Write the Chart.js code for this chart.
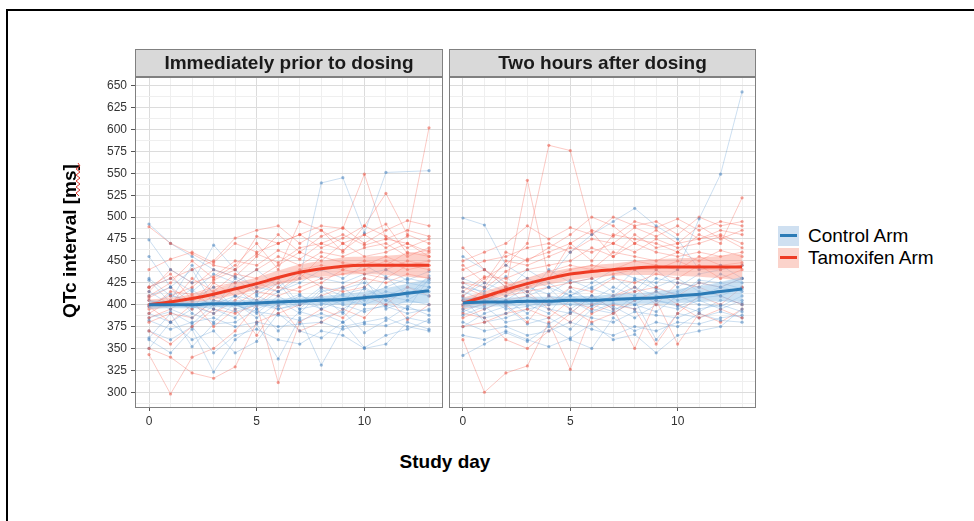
<!DOCTYPE html>
<html>
<head>
<meta charset="utf-8">
<script src="https://cdn.jsdelivr.net/npm/chart.js@4.4.1/dist/chart.umd.min.js"></script>
<style>
    body {
        margin: 0;
        width: 974px;
        height: 521px;
        position: relative;
        overflow: hidden;
        background: #fff;
        font-family: "Liberation Sans", Arial, sans-serif;
    }
    .frame {
        position: absolute;
        left: 6px; top: 9px;
        width: 980px; height: 520px;
        border-top: 2px solid #000;
        border-left: 2px solid #000;
    }
    canvas { position: absolute; }
    #c1 { left: 40px; top: 40px; }
    #c2 { left: 448px; top: 40px; }
    .ytitle {
        position: absolute;
        left: 70px; top: 241px;
        transform: translate(-50%, -50%) rotate(-90deg);
        font-weight: bold; font-size: 19px; color: #000;
        white-space: nowrap;
    }
    .xtitle {
        position: absolute;
        left: 445px; top: 462px;
        transform: translate(-50%, -50%);
        font-weight: bold; font-size: 19px; color: #000;
        white-space: nowrap;
    }
    .key {
        position: absolute;
        left: 778px; width: 21px; height: 20px;
    }
    .key i {
        position: absolute;
        left: 2px; right: 2px; top: 8px; height: 3px;
    }
    .ltext {
        position: absolute;
        left: 808px;
        font-size: 19px; color: #000;
        line-height: 20px;
        white-space: nowrap;
    }
</style>
</head>
<body>

<div class="frame"></div>
<canvas id="c1" width="404" height="400"></canvas>
<canvas id="c2" width="309" height="400"></canvas>

<div class="ytitle">QTc interval [ms]</div>
<svg style="position:absolute;left:75px;top:162px" width="6" height="36">
    <polyline points="3,1 5,4 1,7 5,10 1,13 5,16 1,19 5,22 1,25 5,28 1,31 4,34"
              fill="none" stroke="#e23a2e" stroke-width="1"/>
</svg>
<div class="xtitle">Study day</div>

<div class="key" style="top:226px;background:#cfe0f1"><i style="background:#2c7bb6"></i></div>
<div class="ltext" style="top:226px">Control Arm</div>
<div class="key" style="top:248px;background:#fbd3cb"><i style="background:#ee3b24"></i></div>
<div class="ltext" style="top:248px">Tamoxifen Arm</div>

<script>
/* =====================================================
   DATA
===================================================== */

const days = [0, 1, 2, 3, 4, 5, 6, 7, 8, 9, 10, 11, 12, 13];
const xLabels = [0, 5, 10];
const yTicks = [287.5, 300, 312.5, 325, 337.5, 350, 362.5, 375, 387.5, 400,
                412.5, 425, 437.5, 450, 462.5, 475, 487.5, 500, 512.5, 525,
                537.5, 550, 562.5, 575, 587.5, 600, 612.5, 625, 637.5, 650];

// Immediately prior to dosing - individual patients
const preControl = [
    [492, 470, 455, 440, 432, 420, 415, 430, 539, 545, 482, 551, null, 553],
    [474, 440, 425, 468, 440, 415, 430, 400, 410, 390, 420, 405, 395, 430],
    [455, 420, 440, 400, 410, 395, 405, 390, 415, 420, 400, 430, 425, 420],
    [430, 410, 405, 420, 395, 400, 398, 410, 402, 395, 410, 420, 430, 425],
    [415, 400, 398, 390, 410, 405, 395, 402, 420, 410, 405, 415, 410, 428],
    [405, 395, 385, 405, 400, 390, 410, 395, 400, 412, 418, 405, 415, 410],
    [398, 412, 400, 395, 385, 410, 400, 405, 395, 405, 400, 410, 405, 400],
    [390, 380, 395, 410, 400, 392, 388, 382, 390, 380, 395, 398, 390, 395],
    [382, 372, 380, 385, 375, 380, 375, 378, 380, 372, 378, 376, 385, 380],
    [370, 360, 375, 345, 365, 372, 360, 355, 370, 365, 350, 355, 380, 372],
    [360, 345, 372, 323, 360, 378, 338, 385, 331, 375, 380, 385, 375, 370],
    [350, 380, 360, 370, 345, 358, 390, 370, 362, 380, 351, 365, 372, 383],
    [420, 430, 415, 435, 425, 440, 420, 438, 430, 425, 435, 440, 428, 438],
    [400, 405, 445, 412, 420, 398, 415, 425, 440, 430, 445, 432, 410, 433],
    [385, 392, 378, 400, 392, 400, 395, 400, 408, 400, 392, 400, 395, 393],
    [410, 420, 390, 380, 402, 385, 402, 412, 395, 418, 425, 410, 420, 415],
    [428, 402, 418, 395, 430, 412, 425, 395, 418, 402, 430, 395, 405, 420],
    [362, 390, 352, 378, 380, 395, 370, 392, 385, 392, 368, 382, 398, 388]
];

const preTamoxifen = [
    [489, 470, 458, 445, 440, 478, 470, 480, 490, 487, 549, 475, 470, 455],
    [420, 430, 440, 450, 476, 485, 490, 470, 485, 470, 480, 465, 478, 602],
    [410, 425, 450, 430, 445, 470, 440, 495, 485, 460, 490, 527, 480, 470],
    [400, 410, 420, 440, 432, 455, 480, 460, 478, 488, 470, 485, 496, 490],
    [395, 415, 412, 420, 425, 440, 455, 445, 460, 455, 465, 470, 455, 465],
    [405, 400, 430, 415, 435, 430, 445, 460, 450, 470, 455, 460, 470, 460],
    [390, 405, 395, 425, 410, 420, 430, 440, 445, 440, 450, 445, 460, 455],
    [385, 395, 410, 400, 418, 405, 425, 430, 455, 448, 445, 455, 445, 450],
    [380, 390, 385, 405, 400, 415, 410, 420, 430, 435, 440, 450, 440, 445],
    [370, 355, 375, 395, 390, 400, 420, 415, 425, 440, 435, 430, 445, 440],
    [350, 340, 322, 316, 329, 380, 390, 400, 410, 420, 430, 425, 435, 430],
    [343, 298, 340, 350, 370, 400, 311, 380, 395, 385, 410, 400, 420, 410],
    [420, 435, 405, 375, 395, 365, 400, 370, 380, 395, 385, 410, 383, 400],
    [440, 452, 460, 448, 470, 460, 470, 480, 465, 476, 490, 478, 465, 475],
    [415, 440, 425, 432, 450, 445, 462, 452, 470, 462, 480, 492, 458, 462],
    [398, 380, 400, 390, 405, 425, 415, 435, 420, 415, 420, 440, 450, 445],
    [408, 420, 402, 428, 440, 458, 448, 465, 470, 480, 468, 475, 485, 478]
];

// Two hours after dosing - individual patients
const postControl = [
    [499, 491, 445, 430, 420, 410, 425, 440, 430, 425, 440, 498, 549, 643],
    [455, 440, 420, 415, 430, 460, 480, 495, 510, 490, 475, 440, 445, 430],
    [430, 420, 410, 425, 400, 415, 405, 420, 410, 430, 425, 420, 435, 425],
    [415, 405, 400, 410, 420, 395, 410, 405, 420, 410, 415, 425, 420, 430],
    [405, 410, 395, 398, 405, 400, 398, 410, 400, 415, 405, 410, 420, 415],
    [400, 395, 405, 390, 410, 405, 392, 402, 395, 405, 398, 408, 410, 400],
    [395, 385, 390, 405, 395, 390, 410, 395, 400, 392, 410, 400, 398, 410],
    [388, 398, 380, 385, 378, 392, 385, 380, 392, 388, 385, 395, 400, 392],
    [380, 370, 375, 365, 370, 380, 372, 365, 375, 370, 380, 378, 385, 388],
    [365, 360, 370, 360, 352, 362, 378, 360, 366, 345, 365, 370, 375, 395],
    [342, 355, 368, 358, 375, 360, 350, 385, 370, 380, 375, 390, 382, 380],
    [420, 415, 432, 410, 440, 425, 430, 415, 440, 420, 430, 415, 410, 420],
    [410, 425, 415, 440, 425, 410, 420, 432, 415, 440, 420, 435, 440, 445],
    [392, 402, 420, 400, 390, 420, 402, 398, 385, 400, 395, 405, 395, 405],
    [375, 390, 398, 378, 385, 372, 395, 390, 405, 360, 390, 385, 392, 385],
    [408, 380, 385, 395, 400, 410, 400, 392, 410, 405, 400, 392, 405, 402],
    [425, 412, 405, 420, 412, 428, 418, 410, 428, 418, 412, 428, 425, 418]
];

const postTamoxifen = [
    [465, 440, 420, 542, 430, 470, 450, 480, 475, 470, 460, 480, 470, 522],
    [410, 430, 445, 470, 582, 576, 483, 455, 480, 465, 470, 475, 485, 480],
    [450, 460, 470, 490, 475, 488, 480, 500, 490, 495, 480, 500, 490, 495],
    [440, 450, 455, 465, 470, 460, 475, 470, 488, 478, 490, 475, 480, 470],
    [425, 420, 450, 445, 455, 465, 460, 470, 460, 475, 465, 470, 478, 465],
    [415, 432, 430, 440, 445, 450, 465, 455, 470, 460, 455, 460, 455, 460],
    [405, 410, 420, 430, 438, 445, 440, 460, 455, 450, 460, 450, 462, 455],
    [400, 405, 415, 420, 430, 440, 445, 440, 450, 445, 440, 455, 445, 448],
    [395, 400, 410, 415, 420, 425, 430, 435, 440, 440, 450, 440, 440, 445],
    [385, 395, 405, 410, 400, 420, 415, 430, 425, 435, 430, 445, 430, 440],
    [375, 380, 390, 395, 385, 405, 395, 410, 415, 420, 410, 425, 420, 430],
    [360, 300, 322, 330, 380, 326, 390, 400, 395, 355, 390, 410, 400, 420],
    [390, 385, 360, 350, 370, 390, 410, 395, 350, 405, 355, 390, 380, 395],
    [430, 440, 425, 415, 395, 380, 400, 410, 420, 400, 425, 420, 410, 400],
    [420, 410, 400, 380, 410, 395, 380, 390, 405, 415, 400, 385, 395, 385],
    [445, 425, 460, 450, 465, 480, 500, 490, 470, 485, 470, 490, 475, 485],
    [398, 418, 438, 452, 460, 470, 485, 478, 495, 488, 498, 485, 495, 490]
];

// Smoothed trends with confidence bands
const preControlFit = [400, 400, 400, 401, 401, 402, 403, 404, 405, 406, 408, 410, 413, 416];
const preControlLo  = [395, 396, 396, 397, 397, 398, 399, 400, 400, 400, 401, 401, 402, 402];
const preControlHi  = [405, 404, 404, 405, 405, 406, 407, 408, 410, 412, 415, 419, 424, 430];
const preTamFit     = [400, 403, 407, 412, 418, 424, 431, 437, 441, 444, 445, 445, 445, 445];
const preTamLo      = [394, 398, 402, 406, 411, 417, 423, 428, 432, 434, 435, 434, 432, 430];
const preTamHi      = [406, 408, 412, 418, 425, 431, 439, 446, 450, 454, 455, 456, 458, 460];

const postControlFit = [402, 403, 403, 404, 404, 405, 405, 406, 407, 408, 410, 412, 415, 418];
const postControlLo  = [396, 398, 398, 399, 399, 400, 400, 400, 401, 401, 402, 403, 404, 404];
const postControlHi  = [408, 408, 408, 409, 409, 410, 410, 412, 413, 415, 418, 421, 426, 432];
const postTamFit     = [402, 409, 417, 424, 430, 435, 438, 440, 442, 443, 443, 443, 443, 443];
const postTamLo      = [396, 403, 411, 418, 423, 428, 431, 433, 434, 434, 433, 432, 430, 428];
const postTamHi      = [408, 415, 423, 430, 437, 442, 445, 447, 450, 452, 453, 454, 456, 458];


/* =====================================================
   STYLE
===================================================== */

const BLUE = "#2c7bb6";
const RED = "#ee3b24";
const BLUE_THIN = "rgba(95,155,210,0.32)";
const RED_THIN = "rgba(245,100,85,0.34)";
const BLUE_PT = "rgba(70,130,190,0.55)";
const RED_PT = "rgba(235,85,70,0.55)";
const BLUE_BAND = "rgba(150,195,232,0.50)";
const RED_BAND = "rgba(250,150,135,0.45)";
const FONT = '"Liberation Sans", Arial, sans-serif';

const toXY = arr => arr.map((v, i) => ({ x: days[i], y: v }));


/* =====================================================
   PANEL DECORATION (border + strip)
===================================================== */

const panelDeco = {
    id: "panelDeco",
    afterDraw(chart, args, opts) {
        const { ctx, chartArea: a } = chart;
        ctx.save();
        ctx.strokeStyle = "#808080";
        ctx.lineWidth = 1;
        ctx.strokeRect(a.left + 0.5, a.top + 0.5, a.right - a.left - 1, a.bottom - a.top - 1);

        ctx.fillStyle = "#d9d9d9";
        ctx.fillRect(a.left, a.top - 28, a.right - a.left, 28);
        ctx.strokeRect(a.left + 0.5, a.top - 27.5, a.right - a.left - 1, 27);

        ctx.fillStyle = "#1a1a1a";
        ctx.font = "bold 19px " + FONT;
        ctx.textAlign = "center";
        ctx.textBaseline = "middle";
        ctx.fillText(opts.title, (a.left + a.right) / 2, a.top - 13);
        ctx.restore();
    }
};


/* =====================================================
   BUILD ONE PANEL
===================================================== */

function makePanel(id, title, ctrl, tam, fits, showY) {

    const datasets = [
        { data: toXY(fits.cFit), borderColor: BLUE, borderWidth: 3,
          pointRadius: 0, cubicInterpolationMode: "monotone" },
        { data: toXY(fits.tFit), borderColor: RED, borderWidth: 3,
          pointRadius: 0, cubicInterpolationMode: "monotone" },
        { data: toXY(fits.cLo), borderWidth: 0, pointRadius: 0,
          cubicInterpolationMode: "monotone", fill: false },
        { data: toXY(fits.cHi), borderWidth: 0, pointRadius: 0,
          cubicInterpolationMode: "monotone", fill: "-1", backgroundColor: BLUE_BAND },
        { data: toXY(fits.tLo), borderWidth: 0, pointRadius: 0,
          cubicInterpolationMode: "monotone", fill: false },
        { data: toXY(fits.tHi), borderWidth: 0, pointRadius: 0,
          cubicInterpolationMode: "monotone", fill: "-1", backgroundColor: RED_BAND }
    ];

    // interleave individual patient lines
    for (let i = 0; i < Math.max(ctrl.length, tam.length); i++) {
        if (tam[i]) datasets.push({
            data: toXY(tam[i]), borderColor: RED_THIN, borderWidth: 1,
            pointRadius: 1.6, pointBorderWidth: 0, pointBackgroundColor: RED_PT,
            spanGaps: true, fill: false
        });
        if (ctrl[i]) datasets.push({
            data: toXY(ctrl[i]), borderColor: BLUE_THIN, borderWidth: 1,
            pointRadius: 1.6, pointBorderWidth: 0, pointBackgroundColor: BLUE_PT,
            spanGaps: true, fill: false
        });
    }

    return new Chart(document.getElementById(id), {
        type: "line",
        data: { datasets },
        plugins: [panelDeco],
        options: {
            responsive: false,
            animation: false,
            devicePixelRatio: 1,
            layout: {
                autoPadding: false,
                padding: { top: 37, right: 1, bottom: 0, left: showY ? 0 : 1 }
            },
            plugins: {
                legend: { display: false },
                tooltip: { enabled: false },
                panelDeco: { title }
            },
            scales: {
                x: {
                    type: "linear",
                    min: -0.65, max: 13.65,
                    afterBuildTicks: s => { s.ticks = days.map(v => ({ value: v })); },
                    afterFit: s => {
                        s.height = 32;
                        s.paddingLeft = 0; s.paddingRight = 0;
                    },
                    border: { display: false },
                    grid: {
                        color: c => (c.tick && xLabels.includes(c.tick.value)) ? "#dcdcdc" : "#efefef",
                        tickColor: c => (c.tick && xLabels.includes(c.tick.value)) ? "#555" : "rgba(0,0,0,0)",
                        tickLength: 3
                    },
                    ticks: {
                        autoSkip: false, maxRotation: 0, padding: 3,
                        color: "#333", font: { family: FONT, size: 12 },
                        callback: v => xLabels.includes(v) ? String(v) : ""
                    }
                },
                y: {
                    type: "linear",
                    min: 282, max: 660,
                    afterBuildTicks: s => { s.ticks = yTicks.map(v => ({ value: v })); },
                    afterFit: s => {
                        s.width = showY ? 95 : 0;
                        s.paddingTop = 0; s.paddingBottom = 0;
                    },
                    border: { display: false },
                    grid: {
                        color: c => (c.tick && c.tick.value % 25 === 0) ? "#dcdcdc" : "#efefef",
                        tickColor: c => (c.tick && c.tick.value % 25 === 0) ? "#555" : "rgba(0,0,0,0)",
                        tickLength: 4,
                        drawTicks: showY
                    },
                    ticks: {
                        display: showY,
                        autoSkip: false, padding: 4,
                        color: "#333", font: { family: FONT, size: 12 },
                        callback: v => v % 25 === 0 ? String(v) : ""
                    }
                }
            }
        }
    });
}


/* =====================================================
   RENDER
===================================================== */

makePanel("c1", "Immediately prior to dosing", preControl, preTamoxifen, {
    cFit: preControlFit, cLo: preControlLo, cHi: preControlHi,
    tFit: preTamFit, tLo: preTamLo, tHi: preTamHi
}, true);

makePanel("c2", "Two hours after dosing", postControl, postTamoxifen, {
    cFit: postControlFit, cLo: postControlLo, cHi: postControlHi,
    tFit: postTamFit, tLo: postTamLo, tHi: postTamHi
}, false);
</script>
</body>
</html>
